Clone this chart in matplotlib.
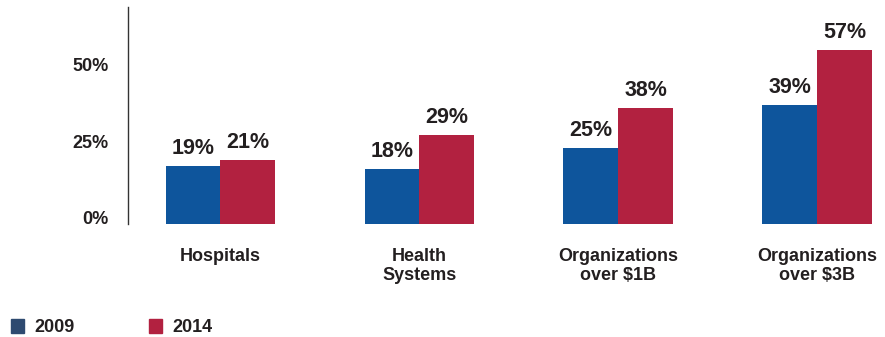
import matplotlib
matplotlib.use("Agg")
import matplotlib.pyplot as plt
import numpy as np
from matplotlib.patches import Patch

CATEGORIES = ["Hospitals", "Health\nSystems", "Organizations\nover $1B", "Organizations\nover $3B"]
VALUES_2009 = [19, 18, 25, 39]
VALUES_2014 = [21, 29, 38, 57]
SERIES = ["2009", "2014"]
Y_TICKS = [0, 25, 50]
Y_TICK_LABELS = ["0%", "25%", "50%"]

BLUE = "#0E559C"
RED = "#B22140"
LEGEND_BLUE = "#2E4A70"
TEXT = "#231F20"

plt.rcParams["font.family"] = ["Liberation Sans", "DejaVu Sans"]
plt.rcParams["font.weight"] = "bold"

fig = plt.figure(figsize=(8.85, 3.37), dpi=100)
ax = fig.add_axes([0.1446, 0.3353, 0.8554, 0.6437])

x = np.arange(len(CATEGORIES))
w = 0.276
b1 = ax.bar(x - w / 2, VALUES_2009, w, color=BLUE)
b2 = ax.bar(x + w / 2, VALUES_2014, w, color=RED)

# percentage labels above the bars
for bars in (b1, b2):
    ax.bar_label(bars, labels=[f"{v}%" for v in bars.datavalues], padding=5,
                 fontsize=15.5, fontweight="bold", color=TEXT)

ax.set_xlim(-0.465, 3.34)
ax.set_ylim(0, 71)
ax.set_yticks(Y_TICKS)
ax.set_yticklabels(Y_TICK_LABELS, fontsize=13, fontweight="bold", color=TEXT,
                   va="baseline")
ax.set_xticks(x)
ax.set_xticklabels(CATEGORIES, fontsize=13, fontweight="bold", color=TEXT,
                   linespacing=1.15)
ax.tick_params(axis="y", length=0, pad=14)
ax.tick_params(axis="x", length=0, pad=17)

for s in ["top", "right", "bottom"]:
    ax.spines[s].set_visible(False)
ax.spines["left"].set_color("#333333")
ax.spines["left"].set_linewidth(1.0)

handles = [Patch(color=LEGEND_BLUE), Patch(color=RED)]
fig.legend(handles, SERIES, loc="lower left", bbox_to_anchor=(0.0, -0.03),
           ncol=2, frameon=False, handlelength=0.75, handleheight=0.75,
           handletextpad=0.55, columnspacing=4.1, borderaxespad=0.2,
           prop={"size": 13, "weight": "bold"}, labelcolor=TEXT)

fig.savefig("out.png", dpi=100)
